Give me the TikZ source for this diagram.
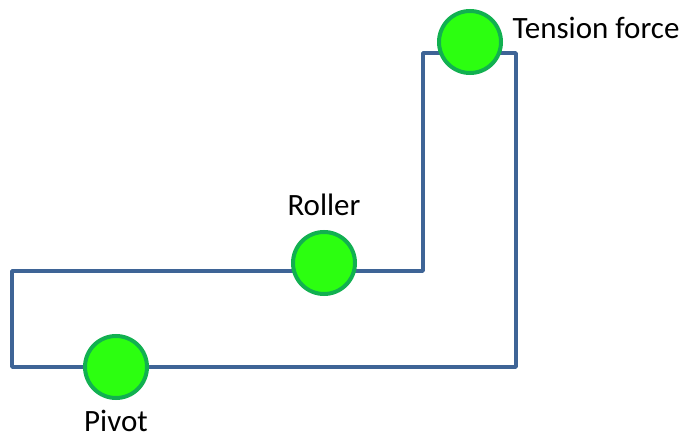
\documentclass[tikz,border=0pt]{standalone}
\usepackage{fontspec}
\setmainfont{Carlito}
\definecolor{linec}{RGB}{62,100,150}
\definecolor{ballf}{RGB}{44,255,16}
\definecolor{balld}{RGB}{18,176,80}
\tikzset{ball/.style={circle,draw=balld,fill=ballf,line width=4pt,minimum size=62pt,inner sep=0pt},
 lbl/.style={font=\fontsize{31}{36}\selectfont,text=black,inner sep=0pt},
 wire/.style={draw=linec,line width=3.6pt,line join=round}}
\begin{document}
\begin{tikzpicture}[x=1pt,y=-1pt]
\useasboundingbox (0,0) rectangle (683,436);
\coordinate (a) at (12,271);
\coordinate (b) at (12,367);
\coordinate (c) at (516,367);
\coordinate (d) at (516,53);
\coordinate (e) at (423,53);
\coordinate (f) at (423,271);
\draw[wire] (a) -- (f) -- (e) -- (d) -- (c) -- (b) -- cycle;
\node[ball] (t) at (470,42) {};
\node[ball] (r) at (324,263) {};
\node[ball] (p) at (116,367) {};
\node[lbl] (tl) at (596,28) {Tension force};
\node[lbl] (rl) at (324,205) {Roller};
\node[lbl] (pl) at (116,421) {Pivot};
\end{tikzpicture}
\end{document}
